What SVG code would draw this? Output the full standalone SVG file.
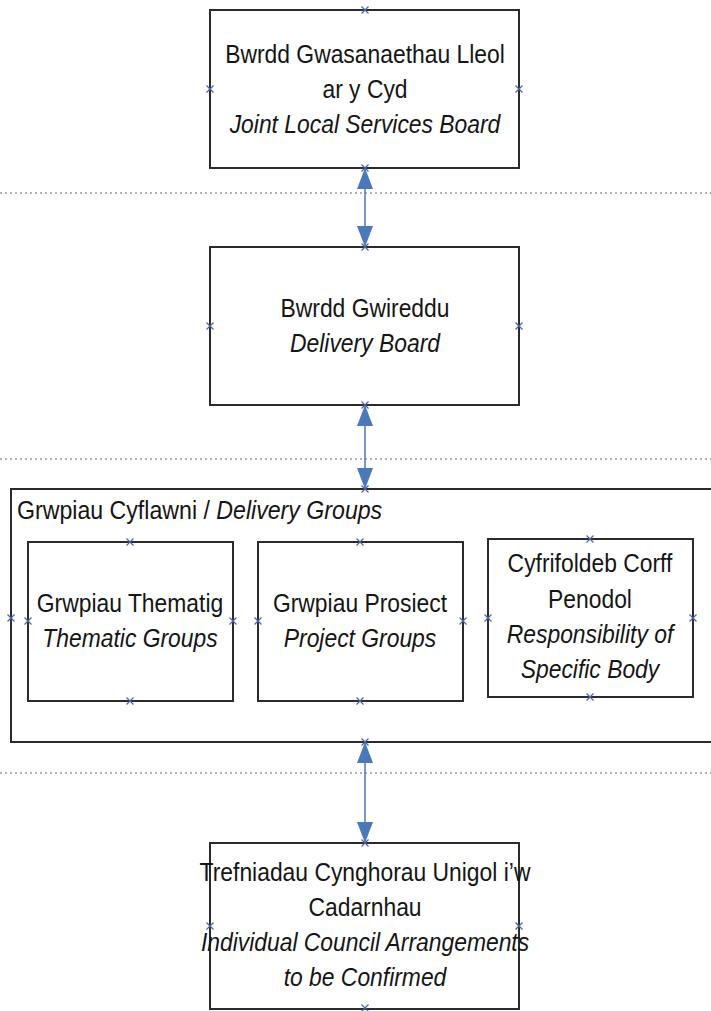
<svg xmlns="http://www.w3.org/2000/svg" width="711" height="1011" viewBox="0 0 711 1011">
<style>
.box{fill:#fff;stroke:#2b2b2b;stroke-width:2}
.t{font-family:"Liberation Sans",Arial,sans-serif;font-size:26px;fill:#151515;text-anchor:middle}
.i{font-style:italic}
.dot{stroke:#999;stroke-width:1.5;stroke-dasharray:2 3}
.con{stroke:#4a78b8;stroke-width:1.5;fill:none;marker-start:url(#ah);marker-end:url(#ah)}
.cp{stroke:#4f62a6;stroke-width:1.2;fill:none}
</style>
<defs>
<marker id="ah" viewBox="0 0 10 10" refX="10" refY="5" markerWidth="21" markerHeight="16" markerUnits="userSpaceOnUse" orient="auto-start-reverse" preserveAspectRatio="none">
<path d="M0,0 L10,5 L0,10 Z" fill="#4a78b8"/>
</marker>
<path id="x" d="M-3.5,-3.5 L3.5,3.5 M-3.5,3.5 L3.5,-3.5"/>
</defs>
<rect width="711" height="1011" fill="#fff"/>
<g id="separators">
<line class="dot" x1="0" y1="193" x2="711" y2="193"/>
<line class="dot" x1="0" y1="459" x2="711" y2="459"/>
<line class="dot" x1="0" y1="773" x2="711" y2="773"/>
</g>
<g id="joint-board">
<rect class="box" x="210" y="10" width="309" height="158"/>
<g transform="translate(365,0) scale(0.88,1)">
<text class="t" x="0" y="63">Bwrdd Gwasanaethau Lleol</text>
<text class="t" x="0" y="98">ar y Cyd</text>
<text class="t i" x="0" y="133">Joint Local Services Board</text>
</g>
</g>
<g id="delivery-board">
<rect class="box" x="210" y="247" width="309" height="158"/>
<g transform="translate(365,0) scale(0.88,1)">
<text class="t" x="0" y="317">Bwrdd Gwireddu</text>
<text class="t i" x="0" y="352">Delivery Board</text>
</g>
</g>
<g id="delivery-groups">
<rect class="box" x="11" y="489" width="710" height="253"/>
<g transform="translate(17,0) scale(0.89,1)">
<text class="t" x="0" y="519" style="text-anchor:start">Grwpiau Cyflawni / <tspan class="i">Delivery Groups</tspan></text>
</g>
</g>
<g id="thematic">
<rect class="box" x="28" y="542" width="205" height="159"/>
<g transform="translate(130,0) scale(0.88,1)">
<text class="t" x="0" y="612">Grwpiau Thematig</text>
<text class="t i" x="0" y="647">Thematic Groups</text>
</g>
</g>
<g id="project">
<rect class="box" x="258" y="542" width="205" height="159"/>
<g transform="translate(360,0) scale(0.88,1)">
<text class="t" x="0" y="612">Grwpiau Prosiect</text>
<text class="t i" x="0" y="647">Project Groups</text>
</g>
</g>
<g id="specific-body">
<rect class="box" x="488" y="539" width="205" height="158"/>
<g transform="translate(590,0) scale(0.88,1)">
<text class="t" x="0" y="572">Cyfrifoldeb Corff</text>
<text class="t" x="0" y="608">Penodol</text>
<text class="t i" x="0" y="643">Responsibility of</text>
<text class="t i" x="0" y="678">Specific Body</text>
</g>
</g>
<g id="council">
<rect class="box" x="210" y="843" width="309" height="166"/>
<g transform="translate(365,0) scale(0.88,1)">
<text class="t" x="0" y="881">Trefniadau Cynghorau Unigol i’w</text>
<text class="t" x="0" y="916">Cadarnhau</text>
<text class="t i" x="0" y="951">Individual Council Arrangements</text>
<text class="t i" x="0" y="986">to be Confirmed</text>
</g>
</g>
<g id="connectors">
<line class="con" x1="365" y1="247" x2="365" y2="168"/>
<line class="con" x1="365" y1="489" x2="365" y2="405"/>
<line class="con" x1="365" y1="843" x2="365" y2="742"/>
</g>
<g id="connection-points" class="cp">
<use href="#x" x="365" y="10"/><use href="#x" x="210" y="89"/><use href="#x" x="519" y="89"/><use href="#x" x="365" y="168"/>
<use href="#x" x="365" y="247"/><use href="#x" x="210" y="326"/><use href="#x" x="519" y="326"/><use href="#x" x="365" y="405"/>
<use href="#x" x="365" y="489"/><use href="#x" x="11" y="618"/><use href="#x" x="365" y="742"/>
<use href="#x" x="130" y="542"/><use href="#x" x="28" y="621"/><use href="#x" x="233" y="621"/><use href="#x" x="130" y="701"/>
<use href="#x" x="360" y="542"/><use href="#x" x="258" y="621"/><use href="#x" x="463" y="621"/><use href="#x" x="360" y="701"/>
<use href="#x" x="590" y="539"/><use href="#x" x="488" y="618"/><use href="#x" x="693" y="618"/><use href="#x" x="590" y="697"/>
<use href="#x" x="365" y="843"/><use href="#x" x="210" y="926"/><use href="#x" x="519" y="926"/><use href="#x" x="365" y="1008"/>
</g>
</svg>
